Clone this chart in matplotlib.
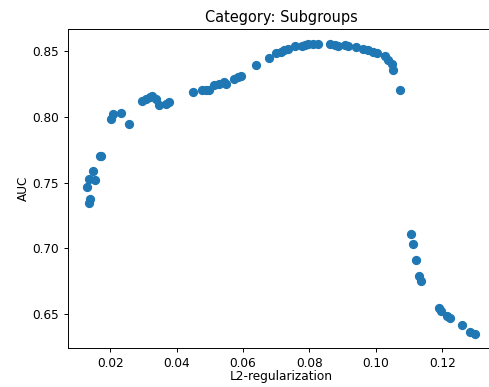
import numpy as np
import matplotlib
matplotlib.use("Agg")
import matplotlib.pyplot as plt

# L2-regularization strength vs AUC
l2_reg = [
    0.0130, 0.0135, 0.0137, 0.0140, 0.0148, 0.0153, 0.0170, 0.0173,
    0.0202, 0.0207, 0.0231, 0.0257,
    0.0295, 0.0307, 0.0318, 0.0325, 0.0338, 0.0346, 0.0368, 0.0377,
    0.0448, 0.0475, 0.0487, 0.0497, 0.0513, 0.0528, 0.0542, 0.0548,
    0.0574, 0.0586, 0.0594, 0.0639, 0.0679, 0.0700, 0.0713, 0.0723,
    0.0736, 0.0756, 0.0776, 0.0786, 0.0796, 0.0810, 0.0826, 0.0862,
    0.0877, 0.0887, 0.0907, 0.0917, 0.0940, 0.0962, 0.0977, 0.0992,
    0.1003, 0.1027, 0.1037, 0.1048, 0.1052, 0.1073,
    0.1106, 0.1113, 0.1120, 0.1130, 0.1136,
    0.1191, 0.1196, 0.1215, 0.1223, 0.1261, 0.1283, 0.1299,
]
auc = [
    0.7468, 0.7531, 0.7343, 0.7374, 0.7590, 0.7519, 0.7700, 0.7705,
    0.7986, 0.8024, 0.8029, 0.7943,
    0.8121, 0.8140, 0.8150, 0.8157, 0.8140, 0.8088, 0.8096, 0.8116,
    0.8188, 0.8203, 0.8208, 0.8203, 0.8241, 0.8254, 0.8266, 0.8249,
    0.8292, 0.8305, 0.8312, 0.8394, 0.8453, 0.8487, 0.8499, 0.8509,
    0.8517, 0.8542, 0.8542, 0.8548, 0.8560, 0.8560, 0.8553, 0.8555,
    0.8548, 0.8540, 0.8547, 0.8540, 0.8530, 0.8522, 0.8510, 0.8496,
    0.8489, 0.8463, 0.8438, 0.8407, 0.8356, 0.8208,
    0.7106, 0.7034, 0.6907, 0.6792, 0.6748,
    0.6544, 0.6524, 0.6486, 0.6467, 0.6417, 0.6365, 0.6348,
]

dpi = 87
fig = plt.figure(figsize=(490 / dpi, 387 / dpi), dpi=dpi)
ax = fig.add_axes([0.1382, 0.1, 0.871, 0.825])
ax.scatter(l2_reg, auc, s=44)
ax.set_title("Category: Subgroups")
ax.set_xlabel("L2-regularization", labelpad=0.5)
ax.set_ylabel("AUC", labelpad=2.5)
fig.savefig("out.png", dpi=dpi)
